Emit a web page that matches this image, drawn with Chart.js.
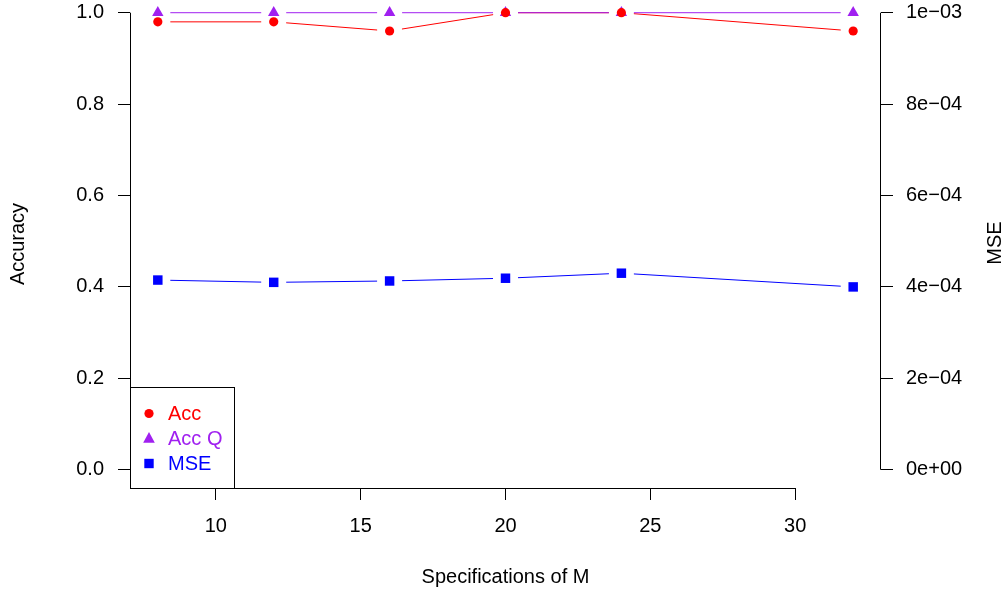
<!DOCTYPE html>
<html>
<head>
<meta charset="utf-8">
<script src="https://cdn.jsdelivr.net/npm/chart.js@4.4.0/dist/chart.umd.min.js"></script>
<style>
  body { margin: 0; background: #fff; }
  canvas { display: block; }
</style>
</head>
<body>
<canvas id="grafico" width="1008" height="594"></canvas>
<script>
// datos
const mValues = [8, 12, 16, 20, 24, 32];
const accValues = [0.98, 0.98, 0.96, 1.0, 1.0, 0.96];
const accQValues = [1.0, 1.0, 1.0, 1.0, 1.0, 1.0];
const mseValues = [4.15e-4, 4.10e-4, 4.13e-4, 4.19e-4, 4.30e-4, 4.00e-4];

const xTicks = [10, 15, 20, 25, 30];
const accTicks = [0, 0.2, 0.4, 0.6, 0.8, 1.0];
const accTickLabels = ['0.0', '0.2', '0.4', '0.6', '0.8', '1.0'];
const mseTicks = [0, 2e-4, 4e-4, 6e-4, 8e-4, 1e-3];
const mseTickLabels = ['0e+00', '2e\u221204', '4e\u221204', '6e\u221204', '8e\u221204', '1e\u221203'];

const seriesNames = ['Acc', 'Acc Q', 'MSE'];
const seriesColors = ['#FF0000', '#A020F0', '#0000FF'];
const seriesShapes = ['circle', 'triangle', 'rect'];

const FUENTE = "'Liberation Sans', Arial, Helvetica, sans-serif";
Chart.defaults.color = '#000';
Chart.defaults.font.family = FUENTE;
Chart.defaults.font.size = 20;

const toPoints = (vals) => mValues.map((m, i) => ({ x: m, y: vals[i] }));

// lineas tipo "b" de R: segmentos con hueco alrededor de cada punto
const lineasConHueco = {
    id: 'lineasConHueco',
    beforeDatasetsDraw(chart) {
        const ctx = chart.ctx;
        const gap = 12.5;
        ctx.save();
        chart.data.datasets.forEach((ds, i) => {
            const pts = chart.getDatasetMeta(i).data;
            ctx.strokeStyle = ds.borderColor;
            ctx.lineWidth = 1;
            for (let k = 0; k < pts.length - 1; k++) {
                const a = pts[k], b = pts[k + 1];
                const dx = b.x - a.x, dy = b.y - a.y;
                const len = Math.hypot(dx, dy);
                if (len <= 2 * gap) continue;
                const ux = dx / len, uy = dy / len;
                ctx.beginPath();
                ctx.moveTo(a.x + ux * gap, a.y + uy * gap);
                ctx.lineTo(b.x - ux * gap, b.y - uy * gap);
                ctx.stroke();
            }
        });
        ctx.restore();
    }
};

function dibujarMarca(ctx, shape, x, y, color) {
    ctx.fillStyle = color;
    ctx.beginPath();
    if (shape === 'circle') {
        ctx.arc(x, y, 4.6, 0, Math.PI * 2);
    } else if (shape === 'triangle') {
        ctx.moveTo(x, y - 6.5);
        ctx.lineTo(x + 5.8, y + 4.2);
        ctx.lineTo(x - 5.8, y + 4.2);
        ctx.closePath();
    } else {
        ctx.rect(x - 4.7, y - 4.7, 9.4, 9.4);
    }
    ctx.fill();
}

// ejes estilo R, titulo derecho y leyenda
const ejesYLeyenda = {
    id: 'ejesYLeyenda',
    afterDraw(chart) {
        const { ctx, chartArea, scales } = chart;
        const x = scales.x, y = scales.y, y1 = scales.y1;
        ctx.save();
        ctx.strokeStyle = '#000';
        ctx.lineWidth = 1;
        ctx.beginPath();
        const lx = Math.round(chartArea.left) + 0.5;
        ctx.moveTo(lx, y.getPixelForValue(accTicks[0]));
        ctx.lineTo(lx, y.getPixelForValue(accTicks[accTicks.length - 1]));
        const rx = Math.round(chartArea.right) - 0.5;
        ctx.moveTo(rx, y1.getPixelForValue(mseTicks[0]));
        ctx.lineTo(rx, y1.getPixelForValue(mseTicks[mseTicks.length - 1]));
        const by = Math.round(chartArea.bottom) + 0.5;
        ctx.moveTo(x.getPixelForValue(xTicks[0]), by);
        ctx.lineTo(x.getPixelForValue(xTicks[xTicks.length - 1]), by);
        ctx.stroke();

        // titulo del eje derecho (leido de abajo hacia arriba, como en R)
        ctx.font = '20px ' + FUENTE;
        ctx.fillStyle = '#000';
        ctx.textAlign = 'center';
        ctx.textBaseline = 'middle';
        ctx.translate(995, (chartArea.top + chartArea.bottom) / 2 - 1);
        ctx.rotate(-Math.PI / 2);
        ctx.fillText('MSE', 0, 0);
        ctx.restore();

        // leyenda abajo a la izquierda
        ctx.save();
        const bx = Math.round(chartArea.left) + 0.5;
        const bb = Math.round(chartArea.bottom) + 0.5;
        const bw = 104, bh = 101;
        ctx.fillStyle = '#fff';
        ctx.fillRect(bx, bb - bh, bw, bh);
        ctx.strokeStyle = '#000';
        ctx.strokeRect(bx, bb - bh, bw, bh);
        ctx.font = '20px ' + FUENTE;
        ctx.textAlign = 'left';
        ctx.textBaseline = 'middle';
        seriesNames.forEach((name, i) => {
            const yy = bb - bh + 26 + i * 25;
            dibujarMarca(ctx, seriesShapes[i], bx + 18.5, yy, seriesColors[i]);
            ctx.fillStyle = seriesColors[i];
            ctx.fillText(name, bx + 37.5, yy + 1);
        });
        ctx.restore();
    }
};

const sinPadding = (scale) => {
    scale.paddingTop = 0;
    scale.paddingBottom = 0;
    scale.paddingLeft = 0;
    scale.paddingRight = 0;
};

window.grafica = new Chart(document.getElementById('grafico').getContext('2d'), {
    type: 'line',
    data: {
        datasets: [
            {
                label: seriesNames[0],
                data: toPoints(accValues),
                yAxisID: 'y',
                borderColor: seriesColors[0],
                backgroundColor: seriesColors[0],
                pointStyle: seriesShapes[0],
                pointRadius: 4.6,
                pointBorderWidth: 0,
                showLine: false,
                clip: false
            },
            {
                label: seriesNames[1],
                data: toPoints(accQValues),
                yAxisID: 'y',
                borderColor: seriesColors[1],
                backgroundColor: seriesColors[1],
                pointStyle: seriesShapes[1],
                pointRadius: 6.6,
                pointBorderWidth: 0,
                showLine: false,
                clip: false
            },
            {
                label: seriesNames[2],
                data: toPoints(mseValues),
                yAxisID: 'y1',
                borderColor: seriesColors[2],
                backgroundColor: seriesColors[2],
                pointStyle: seriesShapes[2],
                pointRadius: 6.7,
                pointBorderWidth: 0,
                showLine: false,
                clip: false
            }
        ]
    },
    options: {
        responsive: false,
        animation: false,
        layout: { padding: 0, autoPadding: false },
        plugins: {
            legend: { display: false },
            tooltip: { enabled: false }
        },
        scales: {
            x: {
                type: 'linear',
                min: 7.04,
                max: 32.96,
                afterBuildTicks: (s) => { s.ticks = xTicks.map(v => ({ value: v })); },
                afterFit: (s) => { s.height = 106; sinPadding(s); },
                ticks: { padding: 14, maxRotation: 0, autoSkip: false, callback: (v) => String(v) },
                grid: { drawOnChartArea: false, drawTicks: true, tickLength: 12, color: '#000' },
                border: { display: false },
                title: { display: true, text: 'Specifications of M', padding: { top: 0, bottom: 5 } }
            },
            y: {
                type: 'linear',
                position: 'left',
                min: -0.04,
                max: 1.0278,
                afterBuildTicks: (s) => { s.ticks = accTicks.map(v => ({ value: v })); },
                afterFit: (s) => { s.width = 130; sinPadding(s); },
                ticks: { padding: 14, autoSkip: false, callback: (v, i) => accTickLabels[i] },
                grid: { drawOnChartArea: false, drawTicks: true, tickLength: 12, color: '#000' },
                border: { display: false },
                title: { display: true, text: 'Accuracy', padding: { top: 6, bottom: 0 } }
            },
            y1: {
                type: 'linear',
                position: 'right',
                min: -0.04e-3,
                max: 1.0278e-3,
                afterBuildTicks: (s) => { s.ticks = mseTicks.map(v => ({ value: v })); },
                afterFit: (s) => { s.width = 127; sinPadding(s); },
                ticks: { padding: 13, autoSkip: false, callback: (v, i) => mseTickLabels[i] },
                grid: { drawOnChartArea: false, drawTicks: true, tickLength: 12, color: '#000' },
                border: { display: false }
            }
        }
    },
    plugins: [lineasConHueco, ejesYLeyenda]
});
</script>
</body>
</html>
